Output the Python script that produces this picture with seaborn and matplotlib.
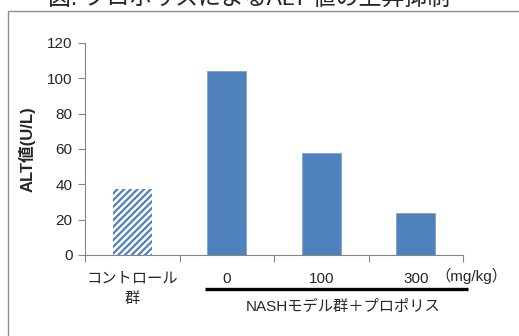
import matplotlib
matplotlib.use("Agg")
import matplotlib.pyplot as plt
import seaborn as sns
import pandas as pd
import numpy as np
from matplotlib.patches import Rectangle

# ---- data ----
categories = ["コントロール\n群", "0", "100", "300"]
alt_values = [37.2, 104.0, 57.8, 23.6]
y_ticks = [0, 20, 40, 60, 80, 100, 120]
title_text = "図. プロポリスによるALT 値の上昇抑制"
y_label = "ALT値(U/L)"
unit_text = "（mg/kg）"
group_text = "NASHモデル群＋プロポリス"

sns.set_theme(style="white")
plt.rcParams["font.family"] = ["Liberation Sans", "Noto Sans CJK JP"]
plt.rcParams["hatch.linewidth"] = 1.6

W, H = 519, 336
fig = plt.figure(figsize=(W / 100, H / 100), dpi=100)
ax = fig.add_axes([85 / W, 1 - 255 / H, (463 - 85) / W, (255 - 43) / H])

df = pd.DataFrame({"cat": categories, "val": alt_values})
blue = "#4F81BD"
sns.barplot(data=df, x="cat", y="val", ax=ax, color=blue, width=0.41,
            saturation=1, edgecolor="#7FA0D0", linewidth=0.6)

# control bar hatched
p0 = ax.patches[0]
p0.set_facecolor("white")
p0.set_edgecolor(blue)
p0.set_hatch("/////")
p0.set_linewidth(0)

ax.set_ylim(0, 120)
ax.set_xlim(-0.5, len(categories) - 0.5)
ax.set_yticks(y_ticks)
ax.set_yticklabels([str(t) for t in y_ticks])

# x ticks at boundaries, labels at centers
ax.set_xticks(np.arange(-0.5, len(categories), 1.0))
ax.set_xticklabels([])
ax.set_xticks(np.arange(len(categories)), minor=True)
ax.set_xticklabels(categories, minor=True, linespacing=1.55, va="top")
ax.tick_params(axis="x", which="minor", length=0, pad=12, labelsize=11)
ax.tick_params(axis="x", which="major", length=5, width=0.8, color="#868686", direction="out", bottom=True)
ax.tick_params(axis="y", length=5, width=0.8, color="#868686", direction="out", pad=4, labelsize=11, left=True)

ax.set_xlabel("")
ax.set_ylabel(y_label, fontweight="bold", fontsize=12)
ax.yaxis.set_label_coords(-0.13, 0.5)

for s in ["top", "right"]:
    ax.spines[s].set_visible(False)
for s in ["left", "bottom"]:
    ax.spines[s].set_color("#868686")
    ax.spines[s].set_linewidth(0.8)

# unit label and group bracket
trans = matplotlib.transforms.blended_transform_factory(ax.transData, ax.transAxes)
ax.text(3.97, -0.1, unit_text, transform=trans, ha="right", va="center", fontsize=11)
ax.plot([0.77, 3.55], [-0.162, -0.162], transform=trans, color="black", lw=2.4, clip_on=False,
        solid_capstyle="butt")
ax.text(2.23, -0.245, group_text, transform=trans, ha="center", va="center", fontsize=11)

# outer chart-area border (cut off at right and bottom)
fig.patches.append(Rectangle((8 / W, -0.2), 1.5, 1.2 - 11 / H, transform=fig.transFigure,
                             fill=False, edgecolor="#8C8C8C", linewidth=1.0))

fig.text(248.5 / W, 1 - 5 / H, title_text, ha="center", va="baseline", fontsize=16.5)

fig.savefig("out.png", dpi=100)
